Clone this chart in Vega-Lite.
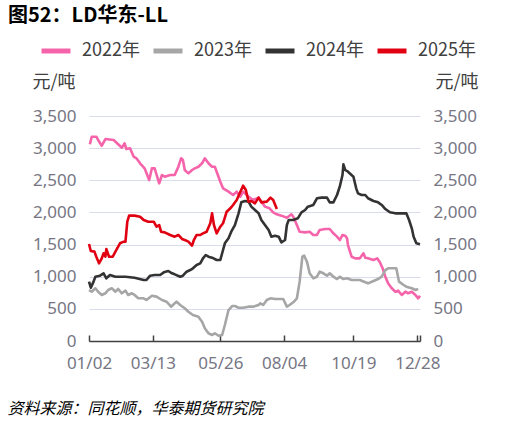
{
  "$schema": "https://vega.github.io/schema/vega-lite/v6.json",
  "description": "LD华东-LL 价差季节性",
  "width": 331,
  "height": 225,
  "autosize": {"type": "none"},
  "padding": {"left": 89, "top": 116, "right": 99, "bottom": 85},
  "background": "white",
  "config": {
    "view": {"stroke": null},
    "font": "Noto Sans CJK SC",
    "axis": {"labelFont": "Noto Sans", "labelFontSize": 17, "labelColor": "#767684", "titleFont": "Noto Sans CJK SC"}
  },
  "title": {
    "text": "图52：LD华东-LL",
    "anchor": "start",
    "frame": "group",
    "dx": -81,
    "offset": 8,
    "fontSize": 20,
    "fontWeight": "bold",
    "color": "#000000"
  },
  "data": {
    "values": [
      {"year": "2022年", "day": 3, "value": 3060},
      {"year": "2022年", "day": 5, "value": 3178},
      {"year": "2022年", "day": 10, "value": 3178},
      {"year": "2022年", "day": 12, "value": 3127},
      {"year": "2022年", "day": 16, "value": 3038},
      {"year": "2022年", "day": 20, "value": 3142},
      {"year": "2022年", "day": 29, "value": 3127},
      {"year": "2022年", "day": 34, "value": 3060},
      {"year": "2022年", "day": 38, "value": 3007},
      {"year": "2022年", "day": 41, "value": 3075},
      {"year": "2022年", "day": 43, "value": 2987},
      {"year": "2022年", "day": 47, "value": 2997},
      {"year": "2022年", "day": 51, "value": 2867},
      {"year": "2022年", "day": 54, "value": 2842},
      {"year": "2022年", "day": 58, "value": 2764},
      {"year": "2022年", "day": 63, "value": 2686},
      {"year": "2022年", "day": 68, "value": 2504},
      {"year": "2022年", "day": 71, "value": 2686},
      {"year": "2022年", "day": 74, "value": 2686},
      {"year": "2022年", "day": 79, "value": 2453},
      {"year": "2022年", "day": 82, "value": 2582},
      {"year": "2022年", "day": 85, "value": 2556},
      {"year": "2022年", "day": 91, "value": 2582},
      {"year": "2022年", "day": 96, "value": 2582},
      {"year": "2022年", "day": 100, "value": 2711},
      {"year": "2022年", "day": 103, "value": 2842},
      {"year": "2022年", "day": 105, "value": 2816},
      {"year": "2022年", "day": 107, "value": 2660},
      {"year": "2022年", "day": 111, "value": 2608},
      {"year": "2022年", "day": 115, "value": 2660},
      {"year": "2022年", "day": 118, "value": 2686},
      {"year": "2022年", "day": 122, "value": 2711},
      {"year": "2022年", "day": 126, "value": 2764},
      {"year": "2022年", "day": 129, "value": 2842},
      {"year": "2022年", "day": 133, "value": 2764},
      {"year": "2022年", "day": 137, "value": 2711},
      {"year": "2022年", "day": 140, "value": 2711},
      {"year": "2022年", "day": 146, "value": 2478},
      {"year": "2022年", "day": 149, "value": 2375},
      {"year": "2022年", "day": 155, "value": 2323},
      {"year": "2022年", "day": 160, "value": 2271},
      {"year": "2022年", "day": 164, "value": 2323},
      {"year": "2022年", "day": 168, "value": 2245},
      {"year": "2022年", "day": 171, "value": 2323},
      {"year": "2022年", "day": 177, "value": 2245},
      {"year": "2022年", "day": 182, "value": 2193},
      {"year": "2022年", "day": 188, "value": 2230},
      {"year": "2022年", "day": 195, "value": 2090},
      {"year": "2022年", "day": 200, "value": 2064},
      {"year": "2022年", "day": 204, "value": 2002},
      {"year": "2022年", "day": 208, "value": 1971},
      {"year": "2022年", "day": 213, "value": 1950},
      {"year": "2022年", "day": 219, "value": 1918},
      {"year": "2022年", "day": 224, "value": 1971},
      {"year": "2022年", "day": 226, "value": 1934},
      {"year": "2022年", "day": 230, "value": 1804},
      {"year": "2022年", "day": 233, "value": 1700},
      {"year": "2022年", "day": 239, "value": 1690},
      {"year": "2022年", "day": 244, "value": 1700},
      {"year": "2022年", "day": 248, "value": 1649},
      {"year": "2022年", "day": 252, "value": 1649},
      {"year": "2022年", "day": 255, "value": 1727},
      {"year": "2022年", "day": 261, "value": 1742},
      {"year": "2022年", "day": 266, "value": 1742},
      {"year": "2022年", "day": 270, "value": 1675},
      {"year": "2022年", "day": 274, "value": 1623},
      {"year": "2022年", "day": 277, "value": 1571},
      {"year": "2022年", "day": 280, "value": 1649},
      {"year": "2022年", "day": 283, "value": 1638},
      {"year": "2022年", "day": 285, "value": 1597},
      {"year": "2022年", "day": 286, "value": 1493},
      {"year": "2022年", "day": 290, "value": 1311},
      {"year": "2022年", "day": 294, "value": 1286},
      {"year": "2022年", "day": 299, "value": 1286},
      {"year": "2022年", "day": 303, "value": 1364},
      {"year": "2022年", "day": 305, "value": 1296},
      {"year": "2022年", "day": 308, "value": 1286},
      {"year": "2022年", "day": 314, "value": 1260},
      {"year": "2022年", "day": 318, "value": 1286},
      {"year": "2022年", "day": 321, "value": 1224},
      {"year": "2022年", "day": 324, "value": 1131},
      {"year": "2022年", "day": 327, "value": 1000},
      {"year": "2022年", "day": 330, "value": 897},
      {"year": "2022年", "day": 334, "value": 820},
      {"year": "2022年", "day": 338, "value": 767},
      {"year": "2022年", "day": 341, "value": 783},
      {"year": "2022年", "day": 345, "value": 716},
      {"year": "2022年", "day": 349, "value": 767},
      {"year": "2022年", "day": 352, "value": 742},
      {"year": "2022年", "day": 356, "value": 767},
      {"year": "2022年", "day": 360, "value": 716},
      {"year": "2022年", "day": 363, "value": 664},
      {"year": "2022年", "day": 365, "value": 705},

      {"year": "2023年", "day": 2, "value": 793},
      {"year": "2023年", "day": 5, "value": 767},
      {"year": "2023年", "day": 9, "value": 820},
      {"year": "2023年", "day": 12, "value": 767},
      {"year": "2023年", "day": 16, "value": 716},
      {"year": "2023年", "day": 20, "value": 742},
      {"year": "2023年", "day": 23, "value": 793},
      {"year": "2023年", "day": 27, "value": 820},
      {"year": "2023年", "day": 31, "value": 767},
      {"year": "2023年", "day": 34, "value": 809},
      {"year": "2023年", "day": 38, "value": 742},
      {"year": "2023年", "day": 42, "value": 783},
      {"year": "2023年", "day": 45, "value": 716},
      {"year": "2023年", "day": 49, "value": 742},
      {"year": "2023年", "day": 52, "value": 716},
      {"year": "2023年", "day": 56, "value": 664},
      {"year": "2023年", "day": 62, "value": 664},
      {"year": "2023年", "day": 65, "value": 638},
      {"year": "2023年", "day": 71, "value": 705},
      {"year": "2023年", "day": 76, "value": 690},
      {"year": "2023年", "day": 82, "value": 638},
      {"year": "2023年", "day": 87, "value": 612},
      {"year": "2023年", "day": 92, "value": 534},
      {"year": "2023年", "day": 94, "value": 560},
      {"year": "2023年", "day": 98, "value": 612},
      {"year": "2023年", "day": 102, "value": 560},
      {"year": "2023年", "day": 107, "value": 509},
      {"year": "2023年", "day": 111, "value": 456},
      {"year": "2023年", "day": 116, "value": 404},
      {"year": "2023年", "day": 122, "value": 378},
      {"year": "2023年", "day": 126, "value": 300},
      {"year": "2023年", "day": 129, "value": 198},
      {"year": "2023年", "day": 133, "value": 120},
      {"year": "2023年", "day": 137, "value": 93},
      {"year": "2023年", "day": 140, "value": 120},
      {"year": "2023年", "day": 144, "value": 82},
      {"year": "2023年", "day": 148, "value": 93},
      {"year": "2023年", "day": 151, "value": 249},
      {"year": "2023年", "day": 155, "value": 482},
      {"year": "2023年", "day": 159, "value": 544},
      {"year": "2023年", "day": 162, "value": 544},
      {"year": "2023年", "day": 166, "value": 518},
      {"year": "2023年", "day": 171, "value": 518},
      {"year": "2023年", "day": 177, "value": 534},
      {"year": "2023年", "day": 182, "value": 534},
      {"year": "2023年", "day": 188, "value": 560},
      {"year": "2023年", "day": 190, "value": 586},
      {"year": "2023年", "day": 193, "value": 560},
      {"year": "2023年", "day": 197, "value": 638},
      {"year": "2023年", "day": 201, "value": 664},
      {"year": "2023年", "day": 206, "value": 653},
      {"year": "2023年", "day": 215, "value": 653},
      {"year": "2023年", "day": 219, "value": 534},
      {"year": "2023年", "day": 222, "value": 560},
      {"year": "2023年", "day": 226, "value": 602},
      {"year": "2023年", "day": 230, "value": 664},
      {"year": "2023年", "day": 233, "value": 923},
      {"year": "2023年", "day": 236, "value": 1311},
      {"year": "2023年", "day": 238, "value": 1327},
      {"year": "2023年", "day": 241, "value": 1234},
      {"year": "2023年", "day": 244, "value": 1053},
      {"year": "2023年", "day": 248, "value": 975},
      {"year": "2023年", "day": 252, "value": 1000},
      {"year": "2023年", "day": 255, "value": 1078},
      {"year": "2023年", "day": 259, "value": 1053},
      {"year": "2023年", "day": 263, "value": 1016},
      {"year": "2023年", "day": 266, "value": 1053},
      {"year": "2023年", "day": 270, "value": 1000},
      {"year": "2023年", "day": 274, "value": 964},
      {"year": "2023年", "day": 277, "value": 1000},
      {"year": "2023年", "day": 281, "value": 964},
      {"year": "2023年", "day": 285, "value": 975},
      {"year": "2023年", "day": 290, "value": 949},
      {"year": "2023年", "day": 299, "value": 949},
      {"year": "2023年", "day": 305, "value": 913},
      {"year": "2023年", "day": 308, "value": 897},
      {"year": "2023年", "day": 314, "value": 933},
      {"year": "2023年", "day": 319, "value": 964},
      {"year": "2023年", "day": 323, "value": 1000},
      {"year": "2023年", "day": 327, "value": 1104},
      {"year": "2023年", "day": 330, "value": 1131},
      {"year": "2023年", "day": 339, "value": 1131},
      {"year": "2023年", "day": 342, "value": 923},
      {"year": "2023年", "day": 347, "value": 871},
      {"year": "2023年", "day": 350, "value": 845},
      {"year": "2023年", "day": 356, "value": 820},
      {"year": "2023年", "day": 360, "value": 793},
      {"year": "2023年", "day": 363, "value": 809},

      {"year": "2024年", "day": 2, "value": 923},
      {"year": "2024年", "day": 4, "value": 830},
      {"year": "2024年", "day": 7, "value": 923},
      {"year": "2024年", "day": 9, "value": 1000},
      {"year": "2024年", "day": 14, "value": 1016},
      {"year": "2024年", "day": 18, "value": 1053},
      {"year": "2024年", "day": 21, "value": 975},
      {"year": "2024年", "day": 25, "value": 1027},
      {"year": "2024年", "day": 31, "value": 1000},
      {"year": "2024年", "day": 42, "value": 1000},
      {"year": "2024年", "day": 52, "value": 985},
      {"year": "2024年", "day": 62, "value": 949},
      {"year": "2024年", "day": 65, "value": 949},
      {"year": "2024年", "day": 69, "value": 1016},
      {"year": "2024年", "day": 74, "value": 1027},
      {"year": "2024年", "day": 80, "value": 1027},
      {"year": "2024年", "day": 84, "value": 1068},
      {"year": "2024年", "day": 89, "value": 1089},
      {"year": "2024年", "day": 93, "value": 1053},
      {"year": "2024年", "day": 96, "value": 1037},
      {"year": "2024年", "day": 102, "value": 1000},
      {"year": "2024年", "day": 105, "value": 1016},
      {"year": "2024年", "day": 109, "value": 1078},
      {"year": "2024年", "day": 113, "value": 1104},
      {"year": "2024年", "day": 116, "value": 1131},
      {"year": "2024年", "day": 120, "value": 1182},
      {"year": "2024年", "day": 124, "value": 1208},
      {"year": "2024年", "day": 127, "value": 1286},
      {"year": "2024年", "day": 130, "value": 1338},
      {"year": "2024年", "day": 133, "value": 1311},
      {"year": "2024年", "day": 137, "value": 1296},
      {"year": "2024年", "day": 142, "value": 1260},
      {"year": "2024年", "day": 146, "value": 1260},
      {"year": "2024年", "day": 149, "value": 1416},
      {"year": "2024年", "day": 151, "value": 1520},
      {"year": "2024年", "day": 155, "value": 1597},
      {"year": "2024年", "day": 158, "value": 1700},
      {"year": "2024年", "day": 162, "value": 1804},
      {"year": "2024年", "day": 166, "value": 1986},
      {"year": "2024年", "day": 169, "value": 2157},
      {"year": "2024年", "day": 173, "value": 2178},
      {"year": "2024年", "day": 177, "value": 2168},
      {"year": "2024年", "day": 180, "value": 2090},
      {"year": "2024年", "day": 184, "value": 2038},
      {"year": "2024年", "day": 188, "value": 1986},
      {"year": "2024年", "day": 191, "value": 1882},
      {"year": "2024年", "day": 195, "value": 1804},
      {"year": "2024年", "day": 199, "value": 1727},
      {"year": "2024年", "day": 202, "value": 1623},
      {"year": "2024年", "day": 206, "value": 1638},
      {"year": "2024年", "day": 210, "value": 1623},
      {"year": "2024年", "day": 213, "value": 1535},
      {"year": "2024年", "day": 217, "value": 1571},
      {"year": "2024年", "day": 219, "value": 1804},
      {"year": "2024年", "day": 221, "value": 1882},
      {"year": "2024年", "day": 226, "value": 1882},
      {"year": "2024年", "day": 231, "value": 1908},
      {"year": "2024年", "day": 235, "value": 2002},
      {"year": "2024年", "day": 239, "value": 2038},
      {"year": "2024年", "day": 242, "value": 2090},
      {"year": "2024年", "day": 248, "value": 2116},
      {"year": "2024年", "day": 252, "value": 2220},
      {"year": "2024年", "day": 257, "value": 2230},
      {"year": "2024年", "day": 263, "value": 2230},
      {"year": "2024年", "day": 266, "value": 2157},
      {"year": "2024年", "day": 270, "value": 2157},
      {"year": "2024年", "day": 274, "value": 2271},
      {"year": "2024年", "day": 277, "value": 2400},
      {"year": "2024年", "day": 280, "value": 2582},
      {"year": "2024年", "day": 281, "value": 2749},
      {"year": "2024年", "day": 283, "value": 2660},
      {"year": "2024年", "day": 286, "value": 2634},
      {"year": "2024年", "day": 292, "value": 2556},
      {"year": "2024年", "day": 295, "value": 2375},
      {"year": "2024年", "day": 297, "value": 2297},
      {"year": "2024年", "day": 301, "value": 2271},
      {"year": "2024年", "day": 305, "value": 2271},
      {"year": "2024年", "day": 308, "value": 2220},
      {"year": "2024年", "day": 314, "value": 2178},
      {"year": "2024年", "day": 319, "value": 2157},
      {"year": "2024年", "day": 323, "value": 2116},
      {"year": "2024年", "day": 327, "value": 2053},
      {"year": "2024年", "day": 332, "value": 2002},
      {"year": "2024年", "day": 338, "value": 1986},
      {"year": "2024年", "day": 350, "value": 1986},
      {"year": "2024年", "day": 353, "value": 1882},
      {"year": "2024年", "day": 356, "value": 1753},
      {"year": "2024年", "day": 358, "value": 1623},
      {"year": "2024年", "day": 361, "value": 1520},
      {"year": "2024年", "day": 365, "value": 1504},

      {"year": "2025年", "day": 2, "value": 1509},
      {"year": "2025年", "day": 4, "value": 1400},
      {"year": "2025年", "day": 8, "value": 1390},
      {"year": "2025年", "day": 10, "value": 1311},
      {"year": "2025年", "day": 13, "value": 1208},
      {"year": "2025年", "day": 16, "value": 1286},
      {"year": "2025年", "day": 18, "value": 1364},
      {"year": "2025年", "day": 20, "value": 1311},
      {"year": "2025年", "day": 21, "value": 1431},
      {"year": "2025年", "day": 24, "value": 1311},
      {"year": "2025年", "day": 28, "value": 1311},
      {"year": "2025年", "day": 32, "value": 1416},
      {"year": "2025年", "day": 36, "value": 1520},
      {"year": "2025年", "day": 40, "value": 1545},
      {"year": "2025年", "day": 42, "value": 1545},
      {"year": "2025年", "day": 44, "value": 1856},
      {"year": "2025年", "day": 46, "value": 1950},
      {"year": "2025年", "day": 52, "value": 1950},
      {"year": "2025年", "day": 58, "value": 1934},
      {"year": "2025年", "day": 62, "value": 1882},
      {"year": "2025年", "day": 67, "value": 1856},
      {"year": "2025年", "day": 73, "value": 1856},
      {"year": "2025年", "day": 76, "value": 1778},
      {"year": "2025年", "day": 79, "value": 1804},
      {"year": "2025年", "day": 81, "value": 1700},
      {"year": "2025年", "day": 85, "value": 1690},
      {"year": "2025年", "day": 91, "value": 1649},
      {"year": "2025年", "day": 96, "value": 1623},
      {"year": "2025年", "day": 100, "value": 1649},
      {"year": "2025年", "day": 104, "value": 1587},
      {"year": "2025年", "day": 107, "value": 1571},
      {"year": "2025年", "day": 111, "value": 1545},
      {"year": "2025年", "day": 115, "value": 1483},
      {"year": "2025年", "day": 117, "value": 1571},
      {"year": "2025年", "day": 120, "value": 1649},
      {"year": "2025年", "day": 124, "value": 1649},
      {"year": "2025年", "day": 127, "value": 1675},
      {"year": "2025年", "day": 131, "value": 1700},
      {"year": "2025年", "day": 135, "value": 1831},
      {"year": "2025年", "day": 137, "value": 1986},
      {"year": "2025年", "day": 139, "value": 1804},
      {"year": "2025年", "day": 142, "value": 1675},
      {"year": "2025年", "day": 146, "value": 1778},
      {"year": "2025年", "day": 149, "value": 1831},
      {"year": "2025年", "day": 153, "value": 2011},
      {"year": "2025年", "day": 157, "value": 2064},
      {"year": "2025年", "day": 160, "value": 2116},
      {"year": "2025年", "day": 164, "value": 2193},
      {"year": "2025年", "day": 168, "value": 2323},
      {"year": "2025年", "day": 171, "value": 2416},
      {"year": "2025年", "day": 174, "value": 2349},
      {"year": "2025年", "day": 177, "value": 2168},
      {"year": "2025年", "day": 180, "value": 2178},
      {"year": "2025年", "day": 184, "value": 2142},
      {"year": "2025年", "day": 188, "value": 2230},
      {"year": "2025年", "day": 191, "value": 2157},
      {"year": "2025年", "day": 197, "value": 2168},
      {"year": "2025年", "day": 201, "value": 2230},
      {"year": "2025年", "day": 204, "value": 2193},
      {"year": "2025年", "day": 208, "value": 2053}
    ]
  },
  "encoding": {
    "x": {
      "field": "day",
      "type": "quantitative",
      "scale": {"domain": [2, 365], "nice": false, "zero": false},
      "axis": {
        "values": [2, 72, 146, 216, 292, 362, 365],
        "labelExpr": "datum.value == 2 ? '01/02' : datum.value == 72 ? '03/13' : datum.value == 146 ? '05/26' : datum.value == 216 ? '08/04' : datum.value == 292 ? '10/19' : datum.value == 362 ? '12/28' : ''",
        "grid": false,
        "domainColor": "#404040",
        "domainWidth": 1.5,
        "tickColor": "#404040",
        "tickWidth": 1.5,
        "tickSize": -6,
        "labelPadding": 20,
        "labelOverlap": false,
        "labelFlush": false,
        "title": "资料来源：同花顺，华泰期货研究院",
        "titleX": -82,
        "titleY": 67,
        "titleAlign": "left",
        "titleBaseline": "middle",
        "titleFontSize": 16,
        "titleFontStyle": "italic",
        "titleFontWeight": "normal",
        "titleColor": "#000000"
      }
    }
  },
  "layer": [
    {
      "mark": {"type": "line", "strokeWidth": 2.6, "strokeJoin": "round"},
      "encoding": {
        "y": {
          "field": "value",
          "type": "quantitative",
          "scale": {"domain": [0, 3500], "nice": false},
          "axis": {
            "values": [0, 500, 1000, 1500, 2000, 2500, 3000, 3500],
            "format": ",.0f",
            "domain": false,
            "ticks": false,
            "grid": true,
            "gridColor": "#D9DCEA",
            "gridWidth": 1,
            "labelPadding": 13,
            "title": "元/吨",
            "titleAngle": 0,
            "titleX": -57,
            "titleY": -34,
            "titleAlign": "left",
            "titleBaseline": "middle",
            "titleFontSize": 18,
            "titleFontWeight": "normal",
            "titleColor": "#404040"
          }
        },
        "color": {
          "field": "year",
          "type": "nominal",
          "scale": {
            "domain": ["2022年", "2023年", "2024年", "2025年"],
            "range": ["#F564AA", "#A6A6A6", "#333333", "#E00012"]
          },
          "legend": {
            "title": null,
            "orient": "none",
            "legendX": -50,
            "legendY": -82,
            "direction": "horizontal",
            "symbolType": "stroke",
            "symbolStrokeWidth": 5,
            "symbolSize": 841,
            "labelFontSize": 18,
            "labelFont": "Noto Sans CJK SC",
            "labelColor": "#404040",
            "labelOffset": 9,
            "columnPadding": 3,
            "padding": 0
          }
        }
      }
    },
    {
      "mark": {"type": "line", "opacity": 0},
      "encoding": {
        "detail": {"field": "year"},
        "y": {
          "field": "value",
          "type": "quantitative",
          "scale": {"domain": [0, 3500], "nice": false},
          "axis": {
            "orient": "right",
            "values": [0, 500, 1000, 1500, 2000, 2500, 3000, 3500],
            "format": ",.0f",
            "domain": false,
            "ticks": false,
            "grid": false,
            "labelPadding": 13,
            "title": "元/吨",
            "titleAngle": 0,
            "titleX": 15,
            "titleY": -34,
            "titleAlign": "left",
            "titleBaseline": "middle",
            "titleFontSize": 18,
            "titleFontWeight": "normal",
            "titleColor": "#404040"
          }
        }
      }
    }
  ],
  "resolve": {"scale": {"y": "independent"}}
}
